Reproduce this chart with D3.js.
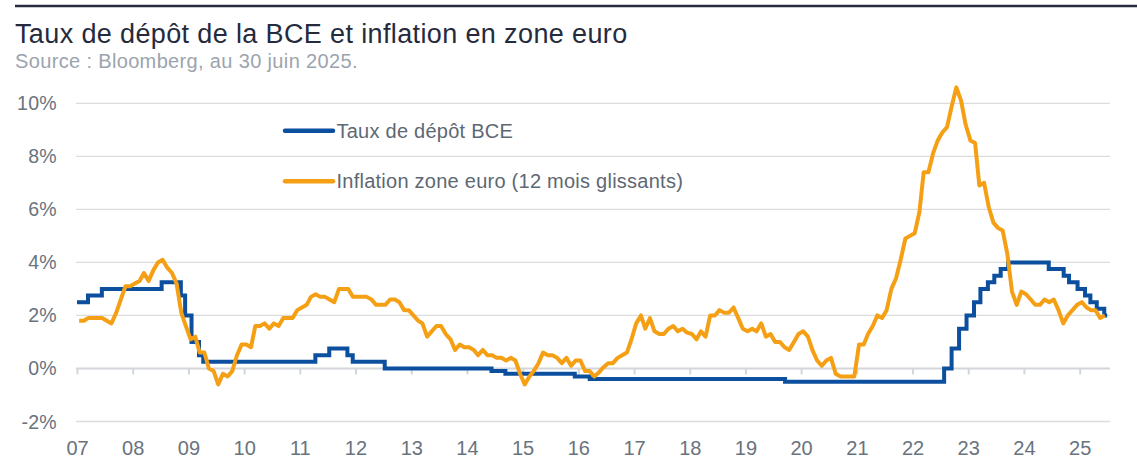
<!DOCTYPE html>
<html>
<head>
<meta charset="utf-8">
<script src="https://cdn.jsdelivr.net/npm/d3@7"></script>
<style>
  body { margin: 0; background: #fff; }
  svg { display: block; font-family: "Liberation Sans", Arial, Helvetica, sans-serif; }
</style>
</head>
<body>
<svg id="chart" width="1137" height="475"></svg>
<script>
// Inflation zone euro, glissement annuel, un point par mois (janv. 2007 -> juin 2025)
var inflation = [
  1.8, 1.8, 1.9, 1.9, 1.9, 1.9, 1.8, 1.7, 2.1, 2.6, 3.1, 3.1,      // 2007
  3.2, 3.3, 3.6, 3.3, 3.7, 4.0, 4.1, 3.8, 3.6, 3.2, 2.1, 1.6,      // 2008
  1.1, 1.2, 0.6, 0.6, 0.0, -0.1, -0.6, -0.2, -0.3, -0.1, 0.5, 0.9, // 2009
  0.9, 0.8, 1.6, 1.6, 1.7, 1.5, 1.7, 1.6, 1.9, 1.9, 1.9, 2.2,      // 2010
  2.3, 2.4, 2.7, 2.8, 2.7, 2.7, 2.6, 2.5, 3.0, 3.0, 3.0, 2.7,      // 2011
  2.7, 2.7, 2.7, 2.6, 2.4, 2.4, 2.4, 2.6, 2.6, 2.5, 2.2, 2.2,      // 2012
  2.0, 1.8, 1.7, 1.2, 1.4, 1.6, 1.6, 1.3, 1.1, 0.7, 0.9, 0.8,      // 2013
  0.8, 0.7, 0.5, 0.7, 0.5, 0.5, 0.4, 0.4, 0.3, 0.4, 0.3, -0.2,     // 2014
  -0.6, -0.3, -0.1, 0.2, 0.6, 0.5, 0.5, 0.4, 0.2, 0.4, 0.1, 0.3,   // 2015
  0.3, -0.1, -0.1, -0.3, -0.15, 0.05, 0.2, 0.2, 0.4, 0.5, 0.6, 1.1, // 2016
  1.7, 2.0, 1.5, 1.9, 1.4, 1.3, 1.3, 1.5, 1.6, 1.4, 1.5, 1.35,     // 2017
  1.3, 1.1, 1.4, 1.2, 2.0, 2.0, 2.2, 2.1, 2.1, 2.3, 1.9, 1.5,      // 2018
  1.4, 1.5, 1.4, 1.7, 1.2, 1.3, 1.0, 1.0, 0.8, 0.7, 1.0, 1.3,      // 2019
  1.4, 1.2, 0.7, 0.3, 0.1, 0.3, 0.4, -0.2, -0.3, -0.3, -0.3, -0.3, // 2020
  0.9, 0.9, 1.3, 1.6, 2.0, 1.9, 2.2, 3.0, 3.4, 4.1, 4.9, 5.0,      // 2021
  5.1, 5.9, 7.4, 7.4, 8.1, 8.6, 8.9, 9.1, 9.9, 10.6, 10.1, 9.2,    // 2022
  8.6, 8.5, 6.9, 7.0, 6.1, 5.5, 5.3, 5.2, 4.3, 2.9, 2.4, 2.9,      // 2023
  2.8, 2.6, 2.4, 2.4, 2.6, 2.5, 2.6, 2.2, 1.7, 2.0, 2.2, 2.4,      // 2024
  2.5, 2.3, 2.2, 2.2, 1.9, 2.0                                     // 2025
];

// Taux de depot BCE : dates de changement et niveaux
var depositDates = [
  "2007-01-01", "2007-03-14", "2007-06-13", "2008-07-09", "2008-11-12",
  "2008-12-10", "2009-01-21", "2009-03-11", "2009-04-08", "2011-04-13",
  "2011-07-13", "2011-11-09", "2011-12-14", "2012-07-11", "2014-06-11",
  "2014-09-10", "2015-12-09", "2016-03-16", "2019-09-18", "2022-07-27",
  "2022-09-14", "2022-11-02", "2022-12-21", "2023-02-08", "2023-03-22",
  "2023-05-10", "2023-06-21", "2023-08-02", "2023-09-20", "2024-06-12",
  "2024-09-18", "2024-10-23", "2024-12-18", "2025-02-05", "2025-03-12",
  "2025-04-23", "2025-06-11", "2025-06-30"
];
var depositRates = [
  2.50, 2.75, 3.00, 3.25, 2.75,
  2.00, 1.00, 0.50, 0.25, 0.50,
  0.75, 0.50, 0.25, 0.00, -0.10,
  -0.20, -0.30, -0.40, -0.50, 0.00,
  0.75, 1.50, 2.00, 2.50, 3.00,
  3.25, 3.50, 3.75, 4.00, 3.75,
  3.50, 3.25, 3.00, 2.75, 2.50,
  2.25, 2.00, 2.00
];

var yTicks = [-2, 0, 2, 4, 6, 8, 10];
var seriesNames = ["Taux de dépôt BCE", "Inflation zone euro (12 mois glissants)"];
var title = "Taux de dépôt de la BCE et inflation en zone euro";
var source = "Source : Bloomberg, au 30 juin 2025.";

var blue = "#0b4f9e", orange = "#f5a014";
var parse = d3.timeParse("%Y-%m-%d");

var depositData = depositDates.map(function(d, i) {
  return { date: parse(d), value: depositRates[i] };
});
var inflationData = inflation.map(function(v, i) {
  return { date: new Date(2007, i, 15), value: v };
});

var svg = d3.select("#chart");

var x = d3.scaleTime()
  .domain([new Date(2007, 0, 1), new Date(2025, 0, 1)])
  .range([77, 1079.7]);
var y = d3.scaleLinear().domain([-2, 10]).range([421.5, 103.3]);
var xStart = new Date(2007, 0, 1), xEnd = new Date(2025, 6, 18);

// filet du haut
svg.append("line")
  .attr("x1", 15).attr("x2", 1137)
  .attr("y1", 6).attr("y2", 6)
  .attr("stroke", "#262b3d").attr("stroke-width", 2.5);

svg.append("text")
  .attr("x", 15).attr("y", 43)
  .attr("fill", "#252b3d")
  .style("font-size", "27px")
  .style("letter-spacing", "0.37px")
  .text(title);

svg.append("text")
  .attr("x", 15).attr("y", 68)
  .attr("fill", "#9ba4ae")
  .style("font-size", "20px")
  .style("letter-spacing", "0.35px")
  .text(source);

// grille horizontale
svg.append("g")
  .selectAll("line")
  .data(yTicks)
  .join("line")
  .attr("x1", x(xStart) - 1).attr("x2", x(xEnd))
  .attr("y1", function(d) { return y(d); })
  .attr("y2", function(d) { return y(d); })
  .attr("stroke", function(d) { return d === 0 ? "#d2d6da" : "#dcdcdc"; })
  .attr("stroke-width", function(d) { return d === 0 ? 2 : 1.3; });

// libelles axe Y
svg.append("g")
  .selectAll("text")
  .data(yTicks)
  .join("text")
  .attr("x", 57)
  .attr("y", function(d) { return y(d); })
  .attr("dy", "0.36em")
  .attr("text-anchor", "end")
  .attr("fill", "#68737e")
  .style("font-size", "19.5px")
  .style("letter-spacing", "0.3px")
  .text(function(d) { return d + "%"; });

// axe X : graduations sur la ligne 0, libelles en bas
var xAxis = svg.append("g")
  .attr("transform", "translate(0," + y(0) + ")")
  .call(d3.axisBottom(x)
    .ticks(d3.timeYear.every(1))
    .tickFormat(d3.timeFormat("%y"))
    .tickSize(6)
    .tickPadding(66.5));
xAxis.select(".domain").remove();
xAxis.selectAll(".tick line").attr("stroke", "#d2d6da").attr("stroke-width", 2);
xAxis.selectAll(".tick text")
  .attr("fill", "#68737e")
  .style("font-size", "20px")
  .style("font-family", "'Liberation Sans', Arial, sans-serif");

// series
var depositLine = d3.line()
  .x(function(d) { return x(d.date); })
  .y(function(d) { return y(d.value); })
  .curve(d3.curveStepAfter);

var inflationLine = d3.line()
  .x(function(d) { return x(d.date); })
  .y(function(d) { return y(d.value); });

svg.append("path")
  .datum(depositData)
  .attr("fill", "none")
  .attr("stroke", blue)
  .attr("stroke-width", 4)
  .attr("d", depositLine);

svg.append("path")
  .datum(inflationData)
  .attr("fill", "none")
  .attr("stroke", orange)
  .attr("stroke-width", 4)
  .attr("stroke-linejoin", "round")
  .attr("d", inflationLine);

// legende
var legendColors = [blue, orange];
var legend = svg.append("g")
  .selectAll("g")
  .data(seriesNames)
  .join("g")
  .attr("transform", function(d, i) { return "translate(285," + (130.7 + i * 50.5) + ")"; });
legend.append("line")
  .attr("x1", 0).attr("x2", 48)
  .attr("stroke", function(d, i) { return legendColors[i]; })
  .attr("stroke-width", 4.5)
  .attr("stroke-linecap", "round");
legend.append("text")
  .attr("x", 51.5).attr("y", 7)
  .attr("fill", "#5d6873")
  .style("font-size", "20px")
  .style("letter-spacing", "0.25px")
  .text(function(d) { return d; });
</script>
</body>
</html>
